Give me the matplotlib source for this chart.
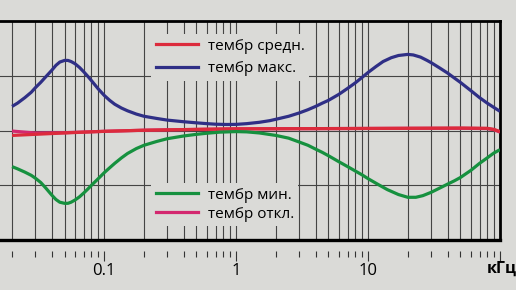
import numpy as np
import matplotlib.pyplot as plt
from matplotlib.lines import Line2D

plt.rcParams['font.family'] = ['Open Sans', 'DejaVu Sans']

# frequency, kHz / level, dB
f_max = [0.02, 0.022, 0.025, 0.028, 0.03, 0.033, 0.036, 0.04, 0.043, 0.046, 0.05, 0.053,
         0.056, 0.06, 0.065, 0.07, 0.075, 0.08, 0.09, 0.1, 0.11, 0.12, 0.135, 0.15, 0.175,
         0.2, 0.25, 0.3, 0.4, 0.5, 0.6, 0.7, 0.85, 1.0, 1.2, 1.5, 1.8, 2.0, 2.5, 3.0, 3.5,
         4.0, 4.5, 5.0, 6.0, 7.0, 8.0, 9.0, 10, 11.5, 13, 15, 17, 20, 22, 25, 28, 30, 35,
         40, 45, 50, 60, 70, 80, 90, 100]
g_max = [4.4, 5.0, 6.0, 7.0, 7.8, 8.8, 9.8, 11.0, 11.9, 12.5, 12.8, 12.8,
         12.6, 12.2, 11.5, 10.7, 9.9, 9.1, 7.6, 6.4, 5.5, 4.8, 4.1, 3.6, 3.0,
         2.6, 2.2, 1.9, 1.6, 1.4, 1.25, 1.15, 1.1, 1.12, 1.25, 1.5, 1.8, 2.05, 2.6, 3.2, 3.8,
         4.4, 5.0, 5.5, 6.6, 7.7, 8.7, 9.7, 10.6, 11.7, 12.6, 13.3, 13.7, 13.9, 13.8, 13.4, 12.8, 12.4, 11.4,
         10.5, 9.6, 8.8, 7.3, 6.0, 5.0, 4.2, 3.5]

f_min = [0.02, 0.022, 0.025, 0.028, 0.03, 0.033, 0.036, 0.04, 0.043, 0.046, 0.05, 0.053,
         0.056, 0.06, 0.065, 0.07, 0.075, 0.08, 0.09, 0.1, 0.11, 0.12, 0.135, 0.15, 0.175,
         0.2, 0.25, 0.3, 0.4, 0.5, 0.6, 0.75, 1.0, 1.2, 1.5, 2.0, 2.5, 3.0, 3.5, 4.0, 4.5,
         5.0, 6.0, 7.0, 8.0, 9.0, 10, 12, 14, 17, 20, 23, 26, 30, 35, 40, 45, 50, 60, 70,
         80, 90, 100]
g_min = [-6.6, -7.0, -7.6, -8.2, -8.7, -9.5, -10.5, -11.8, -12.6, -13.1, -13.3, -13.3,
         -13.1, -12.7, -12.1, -11.4, -10.7, -10.0, -8.8, -7.7, -6.8, -6.0, -5.0, -4.2, -3.3,
         -2.7, -2.0, -1.5, -1.0, -0.7, -0.5, -0.3, -0.2, -0.25, -0.45, -0.9, -1.4, -2.1, -2.7, -3.4, -4.0,
         -4.6, -5.7, -6.6, -7.4, -8.1, -8.8, -9.9, -10.8, -11.7, -12.2, -12.2, -11.9, -11.3, -10.5, -9.8, -9.2, -8.6, -7.3, -6.0,
         -5.0, -4.1, -3.5]

f_mid = [0.02, 0.03, 0.05, 0.1, 0.2, 0.5, 1, 5, 20, 50, 80, 90, 100]
g_mid = [-0.9, -0.7, -0.45, -0.15, 0.05, 0.2, 0.3, 0.35, 0.4, 0.45, 0.4, 0.2, -0.2]

f_off = [0.02, 0.025, 0.03, 0.05, 0.1, 0.2, 0.5, 1, 5, 20, 50, 80, 90, 100]
g_off = [-0.1, -0.3, -0.45, -0.4, -0.15, 0.05, 0.2, 0.3, 0.35, 0.4, 0.4, 0.35, 0.15, -0.3]

labels = ['тембр средн.', 'тембр макс.', 'тембр мин.', 'тембр откл.']
colors = ['#dc2b3c', '#2f2f86', '#16913f', '#d3286f']

bg = '#dadad7'
fig = plt.figure(figsize=(5.16, 2.9), dpi=100, facecolor=bg)
ax = fig.add_axes([0, 50/290, 500/516, 219/290], facecolor=bg)
ax.set_xscale('log')
ax.set_xlim(0.0162, 100)
ax.set_ylim(-20, 20)

# grid
grid_f = [m * 10.0**e for e in range(-2, 2) for m in range(1, 10)]
for f in grid_f:
    if f > 0.0162:
        ax.axvline(f, color='#444444', lw=0.8, zorder=1)
for y in (-10, 0, 10):
    ax.axhline(y, color='#444444', lw=0.8, zorder=1)

lw = 2.3
ax.plot(f_off, g_off, color=colors[3], lw=lw, zorder=3, solid_capstyle='butt')
ax.plot(f_mid, g_mid, color=colors[0], lw=lw, zorder=3, solid_capstyle='butt')
ax.plot(f_max, g_max, color=colors[1], lw=lw, zorder=3, solid_capstyle='butt')
ax.plot(f_min, g_min, color=colors[2], lw=lw, zorder=3, solid_capstyle='butt')

# frame
ax.spines['left'].set_visible(False)
ax.spines['top'].set_linewidth(2)
ax.spines['right'].set_linewidth(2)
ax.spines['bottom'].set_position(('outward', 8))
ax.spines['bottom'].set_visible(False)
ax.axhline(-20, color='black', lw=2.4, clip_on=False, zorder=4)
ax.yaxis.set_visible(False)

ax.set_xticks([0.1, 1, 10, 100])
ax.set_xticklabels(['0.1', '1', '10', ''])
ax.tick_params(axis='x', which='major', direction='out', length=7, width=0.8,
               labelsize=12, pad=1.5, color='#333333')
ax.tick_params(axis='x', which='minor', direction='out', length=4, width=0.8,
               color='#333333')
ax.xaxis.set_minor_formatter(plt.NullFormatter())

h = [Line2D([], [], color=c, lw=lw) for c in colors]
leg1 = ax.legend(h[:2], labels[:2], loc='upper left', bbox_to_anchor=(151/500, 1 - 13/219),
                 frameon=True, facecolor=bg, edgecolor='none', framealpha=1, fancybox=False,
                 fontsize=11, handlelength=2.8, handletextpad=0.6, labelspacing=0.5,
                 borderpad=0.3, borderaxespad=0)
leg1.set_zorder(5)
ax.add_artist(leg1)
leg2 = ax.legend(h[2:], labels[2:], loc='upper left', bbox_to_anchor=(151/500, 1 - 162/219),
                 frameon=True, facecolor=bg, edgecolor='none', framealpha=1, fancybox=False,
                 fontsize=11, handlelength=2.8, handletextpad=0.6, labelspacing=0.27,
                 borderpad=0.3, borderaxespad=0)
leg2.set_zorder(5)

fig.text(487/516, 1 - 273/290, 'кГц', fontsize=11.5, fontweight='bold', ha='left', va='baseline')

fig.savefig('out.png', dpi=100, facecolor=bg)
